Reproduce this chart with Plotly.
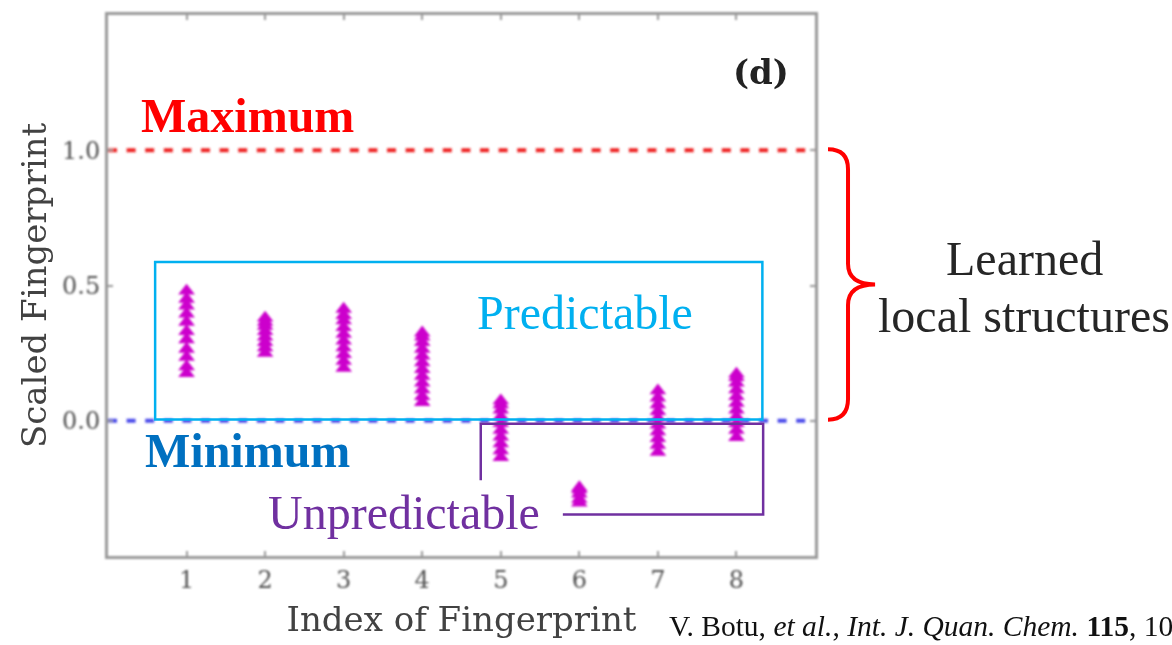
import plotly.graph_objects as go

# Scaled fingerprint values for each fingerprint index
fp_index = [1, 2, 3, 4, 5, 6, 7, 8]
fp_values = {
    1: [0.175, 0.20, 0.235, 0.265, 0.30, 0.33, 0.365, 0.395, 0.425, 0.45, 0.48],
    2: [0.25, 0.27, 0.29, 0.31, 0.33, 0.35, 0.365, 0.38],
    3: [0.195, 0.22, 0.245, 0.27, 0.295, 0.32, 0.345, 0.37, 0.39, 0.413],
    4: [0.068, 0.09, 0.115, 0.14, 0.165, 0.19, 0.215, 0.24, 0.265, 0.29, 0.31, 0.325],
    5: [-0.135, -0.11, -0.085, -0.06, -0.035, -0.01, 0.015, 0.04, 0.06, 0.074],
    6: [-0.304, -0.29, -0.27, -0.255, -0.247],
    7: [-0.116, -0.09, -0.065, -0.04, -0.015, 0.01, 0.035, 0.06, 0.085, 0.111],
    8: [-0.061, -0.035, -0.01, 0.015, 0.04, 0.065, 0.09, 0.115, 0.14, 0.16, 0.173],
}
y_max_level = 1.0
y_min_level = 0.0
x_range = [0, 9]
y_range = [-0.5, 1.5]
y_tick_vals = [0.0, 0.5, 1.0]
y_tick_text = ["0.0", "0.5", "1.0"]

xs, ys = [], []
for i in fp_index:
    for v in fp_values[i]:
        xs.append(i)
        ys.append(v)

AX_FONT = "DejaVu Serif"
TNR = "Liberation Serif, Times New Roman, serif"
GREY = "#505050"

fig = go.Figure()

# Maximum / minimum reference levels
fig.add_trace(go.Scatter(x=x_range, y=[y_max_level] * 2, mode="lines",
                         line=dict(color="#ee2020", width=4, dash="9px,9.6px"),
                         hoverinfo="skip"))
fig.add_trace(go.Scatter(x=x_range, y=[y_min_level] * 2, mode="lines",
                         line=dict(color="#4a4aea", width=4, dash="9px,9.6px"),
                         hoverinfo="skip"))

# Fingerprint points
fig.add_trace(go.Scatter(x=xs, y=ys, mode="markers",
                         marker=dict(symbol="triangle-up", size=14.5, color="#cc00cc",
                                     line=dict(width=0))))

axis_common = dict(
    showline=True, mirror="ticks", linecolor="#999999", linewidth=3,
    ticks="inside", ticklen=5, tickwidth=1.5, tickcolor="#999999",
    showgrid=False, zeroline=False,
    tickfont=dict(family=AX_FONT, size=24, color=GREY),
)

fig.update_layout(
    width=1172, height=645,
    margin=dict(l=108, r=357, t=14, b=87),
    paper_bgcolor="white", plot_bgcolor="white",
    showlegend=False,
    xaxis=dict(range=x_range, tickvals=fp_index, ticktext=[str(i) for i in fp_index],
               title=dict(text="Index of Fingerprint", standoff=15,
                          font=dict(family=AX_FONT, size=34, color="#424242")),
               **axis_common),
    yaxis=dict(range=y_range, tickvals=y_tick_vals, ticktext=y_tick_text,
               title=dict(text="Scaled Fingerprint", standoff=6,
                          font=dict(family=AX_FONT, size=34, color="#424242")),
               **axis_common),
)

# Region outlines
fig.add_shape(type="rect", xref="x", yref="y", x0=0.6, x1=8.33, y0=0.005, y1=0.587,
              line=dict(color="#00b0f0", width=2.5))
fig.add_shape(type="path", xref="x", yref="y",
              path="M 4.745,-0.22 L 4.745,-0.011 L 8.34,-0.011 L 8.34,-0.347 L 5.79,-0.347",
              line=dict(color="#7030a0", width=2.5))

# Curly brace spanning minimum to maximum
fig.add_shape(type="path", xref="paper", yref="paper",
              path=("M 1.0184,0.752 Q 1.0467,0.752 1.0467,0.715 L 1.0467,0.54 "
                    "Q 1.0467,0.502 1.085,0.502 Q 1.0467,0.502 1.0467,0.464 "
                    "L 1.0467,0.29 Q 1.0467,0.252 1.0184,0.252"),
              line=dict(color="#ff0000", width=4))

def label(text, x, y, color, size=48, bold=False, xref="x", yref="y", family=TNR,
          xanchor="center"):
    if bold:
        text = "<b>" + text + "</b>"
    fig.add_annotation(text=text, x=x, y=y, xref=xref, yref=yref, showarrow=False,
                       xanchor=xanchor, yanchor="middle",
                       font=dict(family=family, size=size, color=color))

label("Maximum", 1.776, 1.13, "#ff0000", bold=True)
label("Minimum", 1.776, -0.11, "#0070c0", bold=True)
label("Predictable", 6.066, 0.40, "#00b0f0")
label("Unpredictable", 3.768, -0.34, "#7030a0")
label("(d)", 8.318, 1.29, "#222222", size=34, bold=True, family=AX_FONT)
label("Learned", 1.2963, 0.60, "#262626", xref="paper", yref="y")
label("local structures", 1.2963, 0.39, "#262626", xref="paper", yref="y")

fig.add_annotation(
    text="V. Botu, <i>et al.</i>, <i>Int. J. Quan. Chem.</i> <b>115</b>, 10",
    x=(667 - 108) / 707, y=-0.1287, xref="paper", yref="paper", showarrow=False,
    xanchor="left", yanchor="middle",
    font=dict(family=TNR, size=29.5, color="#111111"))

# The underlying panel (axes, marks, axis titles, panel letter) is a soft raster
# in the original slide, so give those layers a slight blur.
soften = """
var gd = document.getElementById('{plot_id}');
var svg = gd.querySelector('.main-svg');
var ns = 'http://www.w3.org/2000/svg';
var defs = svg.querySelector('defs') || svg.insertBefore(document.createElementNS(ns, 'defs'), svg.firstChild);
var f = document.createElementNS(ns, 'filter');
f.setAttribute('id', 'soft-panel');
f.setAttribute('x', '-10%'); f.setAttribute('y', '-10%');
f.setAttribute('width', '120%'); f.setAttribute('height', '120%');
var b = document.createElementNS(ns, 'feGaussianBlur');
b.setAttribute('stdDeviation', '0.8');
f.appendChild(b);
defs.appendChild(f);
svg.querySelectorAll('.cartesianlayer, .g-xtitle, .g-ytitle, .annotation[data-index="4"]').forEach(function (el) {
  el.setAttribute('filter', 'url(#soft-panel)');
});
"""

fig.write_html("out.html", post_script=soften)
